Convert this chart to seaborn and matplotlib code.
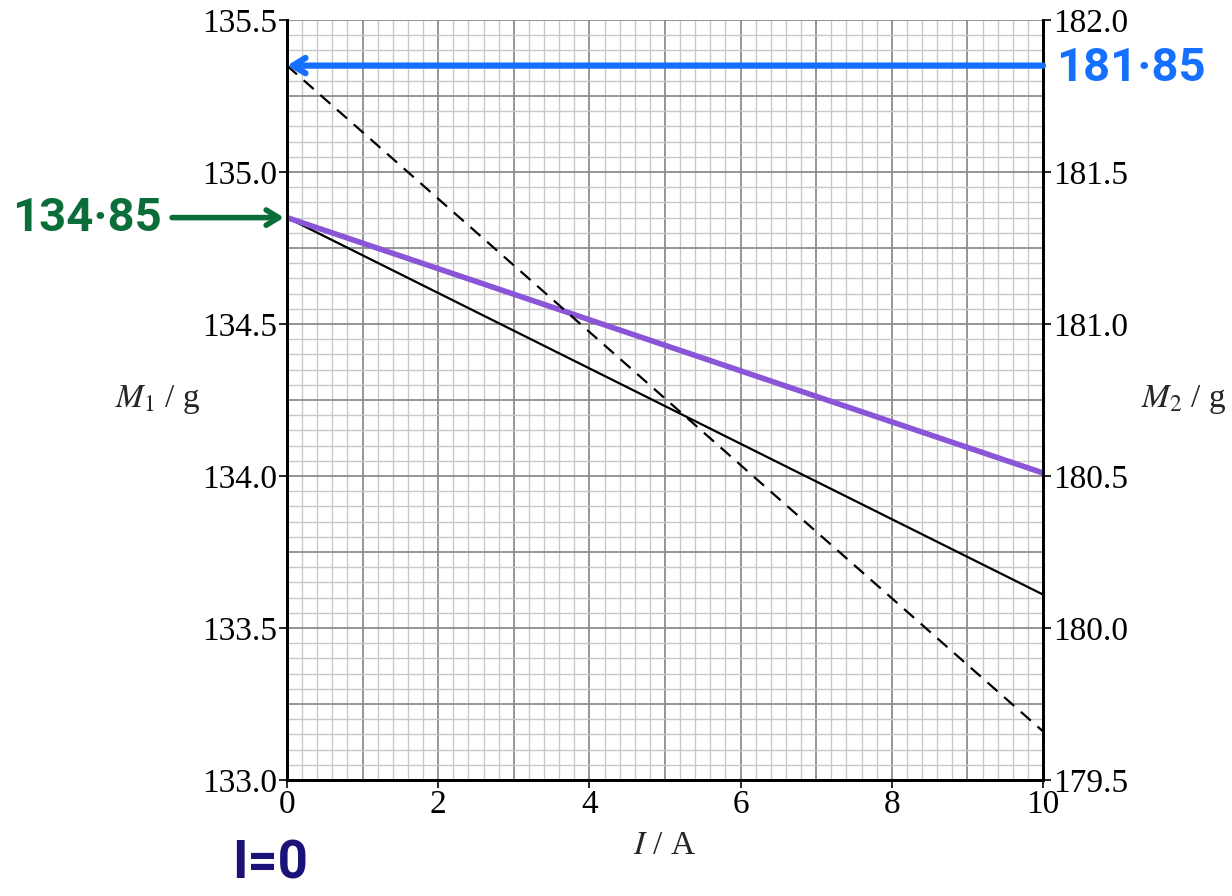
import numpy as np
import pandas as pd
import seaborn as sns
import matplotlib.pyplot as plt

# ==========================================
# DATA
# ==========================================

current = [0, 10]
m1_line = [134.85, 133.61]      # solid, left axis
m2_line = [181.85, 179.66]      # dashed, right axis
m1_drawn = [134.85, 134.01]     # purple, left axis

m1_ticks = [133.0, 133.5, 134.0, 134.5, 135.0, 135.5]
m2_ticks = [179.5, 180.0, 180.5, 181.0, 181.5, 182.0]
i_ticks = [0, 2, 4, 6, 8, 10]

m1_mark = 134.85
m2_mark = 181.85

df = pd.DataFrame({
    "I": current,
    "M1": m1_line,
    "M2": m2_line,
    "M1_drawn": m1_drawn
})

# ==========================================
# STYLE
# ==========================================

sns.set_style("ticks")
plt.rcParams["font.family"] = ["Liberation Serif", "DejaVu Serif"]
plt.rcParams["mathtext.fontset"] = "stix"

W, H = 1232, 896
fig = plt.figure(figsize=(W / 100, H / 100), dpi=100)
ax = fig.add_axes([287 / W, 1 - 780 / H, 756 / W, 760 / H])
ax2 = ax.twinx()

# graph paper grid
for x in np.arange(0, 10.01, 0.2):
    major = abs(x - round(x)) < 1e-6
    ax.axvline(x, color="#8c8c8c" if major else "#c8c8c8",
               lw=1.3 if major else 1.0, zorder=0)
for y in np.arange(133.0, 135.51, 0.05):
    major = abs(y * 4 - round(y * 4)) < 1e-6
    ax.axhline(y, color="#8c8c8c" if major else "#c8c8c8",
               lw=1.3 if major else 1.0, zorder=0)

# ==========================================
# LINES
# ==========================================

sns.lineplot(data=df, x="I", y="M1", ax=ax, color="black", lw=1.6, zorder=3)
sns.lineplot(data=df, x="I", y="M1_drawn", ax=ax, color="#8a55d6", lw=4, zorder=4)
sns.lineplot(data=df, x="I", y="M2", ax=ax2, color="black", lw=1.6, zorder=3)
ax2.lines[-1].set_dashes([6, 4])

# ==========================================
# AXES
# ==========================================

ax.set_xlim(0, 10)
ax.set_ylim(133.0, 135.5)
ax2.set_ylim(179.5, 182.0)

ax.set_xticks(i_ticks)
ax.set_yticks(m1_ticks)
ax2.set_yticks(m2_ticks)
ax.set_xticklabels([str(t) for t in i_ticks])
ax.set_yticklabels([f"{t:.1f}" for t in m1_ticks])
ax2.set_yticklabels([f"{t:.1f}" for t in m2_ticks])

for a in (ax, ax2):
    a.tick_params(direction="out", length=6, width=1.2, labelsize=24,
                  pad=1, colors="black")
    for s in a.spines.values():
        s.set_linewidth(2)
        s.set_color("black")
ax.spines["top"].set_visible(False)
ax2.spines["top"].set_visible(False)

ax.set_xlabel("")
ax.set_ylabel("")
ax2.set_ylabel("")

fig.text(665 / W, 1 - 846 / H, r"$I$ / A", fontsize=24,
         ha="center", va="center")
fig.text(158 / W, 1 - 400 / H, r"$M_1$ / g", fontsize=24,
         ha="center", va="center")
fig.text(1184 / W, 1 - 400 / H, r"$M_2$ / g", fontsize=24,
         ha="center", va="center")

# ==========================================
# ANNOTATIONS
# ==========================================

hand = ["Roboto", "DejaVu Sans"]
arrow = "->,head_length=0.9,head_width=0.55"

ax2.annotate("", xy=(0, m2_mark), xytext=(10, m2_mark),
             arrowprops=dict(arrowstyle=arrow, color="#1570ff", lw=4.5,
                             shrinkA=0, shrinkB=0),
             annotation_clip=False, zorder=6)
fig.text(1056 / W, 1 - 68 / H, "181·85", color="#1570ff", fontsize=34,
         family=hand, fontweight="bold", ha="left", va="center")

ax.annotate("", xy=(-0.04, m1_mark), xytext=(-1.52, m1_mark),
            arrowprops=dict(arrowstyle=arrow, color="#0b6e3a", lw=4,
                            shrinkA=0, shrinkB=0),
            annotation_clip=False, zorder=6)
fig.text(12 / W, 1 - 218 / H, "134·85", color="#0b6e3a", fontsize=34,
         family=hand, fontweight="bold", ha="left", va="center")

fig.text(270 / W, 1 - 864 / H, "I=0", color="#1a1278", fontsize=38,
         family=hand, fontweight="bold", ha="center", va="center")

plt.savefig("out.png", dpi=100)
